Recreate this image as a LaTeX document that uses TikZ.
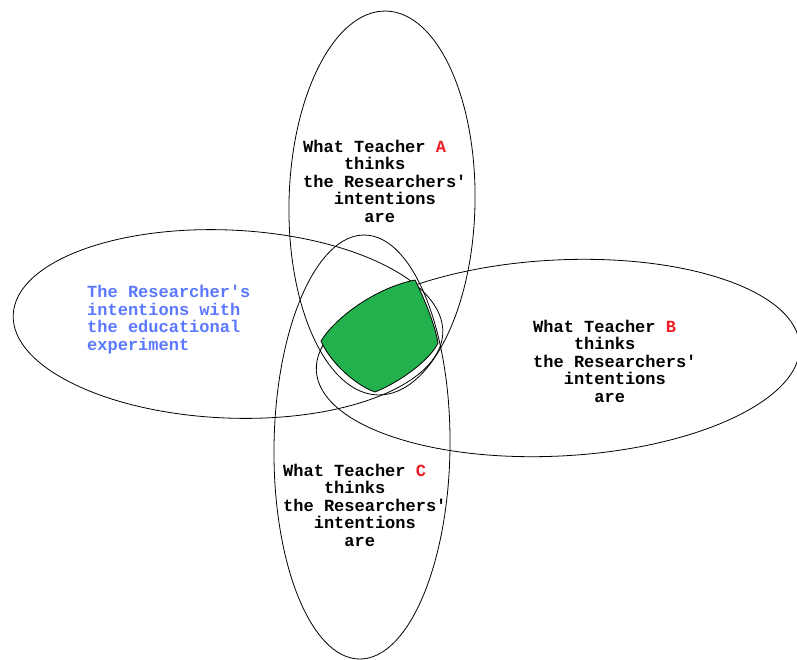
\documentclass[tikz,border=0pt]{standalone}
\usepackage{fontspec}
\newfontfamily\monob{Liberation Mono}
\definecolor{paintgreen}{HTML}{22B14C}
\definecolor{letterred}{HTML}{ED1C24}
\definecolor{textblue}{HTML}{5B78FF}
\tikzset{
  venn/.style={draw=black, line width=0.8pt},
  lbl/.style={anchor=base west, inner sep=0pt, align=left,
    font=\monob\bfseries\fontsize{17}{17.5}\selectfont},
}
\begin{document}
\begin{tikzpicture}[x=1pt, y=-1pt]
\useasboundingbox (0,0) rectangle (797,659);
% ellipses
\draw[venn, rotate around={-2.5:(228,324)}] (228,324) ellipse [x radius=215, y radius=94];
\draw[venn, rotate around={3:(558,358)}] (558,358) ellipse [x radius=242, y radius=98];
\draw[venn, rotate around={-1.2:(382,203)}] (382,203) ellipse [x radius=93, y radius=192];
\draw[venn, rotate around={-0.7:(362,447)}] (362,447) ellipse [x radius=88, y radius=212];
% green common region
\filldraw[fill=paintgreen, draw=black, line width=0.8pt]
  (321,341) .. controls (335,318) and (375,288) .. (415,280)
  .. controls (425,300) and (435,325) .. (438,343)
  .. controls (430,360) and (400,382) .. (375,392)
  .. controls (355,385) and (330,362) .. (321,341) -- cycle;
% labels (anchor = baseline of the last line)
\node[lbl] (tA) at (303,222) {What Teacher \textcolor{letterred}{A}\\
\phantom{0000}thinks\\
the Researchers'\\
\phantom{000}intentions\\
\phantom{000000}are};
\node[lbl] (tB) at (533,402) {What Teacher \textcolor{letterred}{B}\\
\phantom{0000}thinks\\
the Researchers'\\
\phantom{000}intentions\\
\phantom{000000}are};
\node[lbl] (tC) at (283,546) {What Teacher \textcolor{letterred}{C}\\
\phantom{0000}thinks\\
the Researchers'\\
\phantom{000}intentions\\
\phantom{000000}are};
\node[lbl, text=textblue] (tR) at (87,350) {The Researcher's\\
intentions with\\
the educational\\
experiment};
\end{tikzpicture}
\end{document}
